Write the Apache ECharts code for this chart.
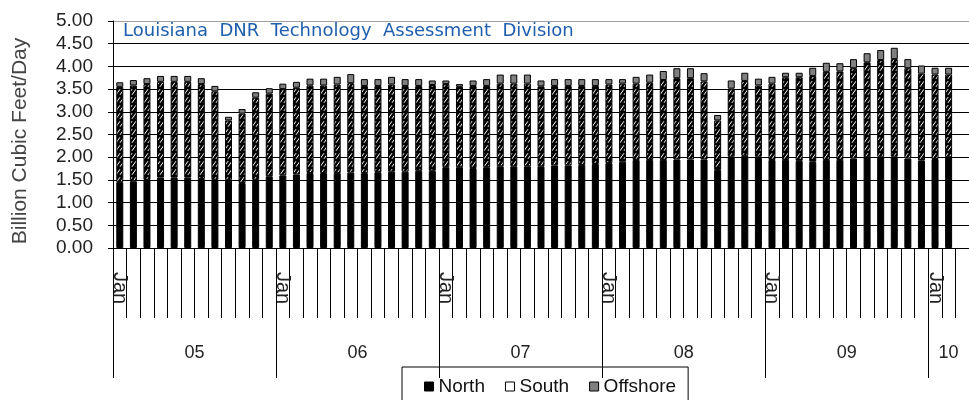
<!DOCTYPE html>
<html>
<head>
<meta charset="utf-8">
<script src="https://cdn.jsdelivr.net/npm/echarts@6/dist/echarts.min.js"></script>
<style>html,body{margin:0;padding:0;background:#fff;}#c{width:969px;height:400px;}</style>
</head>
<body>
<div id="c"></div>
<script>
const months = ['Jan','Feb','Mar','Apr','May','Jun','Jul','Aug','Sep','Oct','Nov','Dec'];
const years = ['05','06','07','08','09','10'];
const monthsIn2010 = 2;
const yTicks = [0,0.5,1,1.5,2,2.5,3,3.5,4,4.5,5];

const north = [
  1.45,1.47,1.50,1.55,1.55,1.55,1.52,1.50,1.50,1.43,1.50,1.58,
  1.60,1.62,1.65,1.65,1.65,1.66,1.65,1.67,1.68,1.68,1.70,1.70,
  1.78,1.78,1.76,1.78,1.80,1.80,1.80,1.80,1.82,1.82,1.83,1.85,
  1.87,1.90,1.94,1.94,1.94,1.95,1.95,1.95,1.72,2.01,2.03,2.01,
  1.94,1.94,1.92,1.90,1.94,1.94,1.97,2.00,2.01,2.01,1.97,1.93,
  1.96,2.00
];
const south = [
  2.10,2.11,2.11,2.11,2.11,2.11,2.09,1.95,1.31,1.53,1.81,1.82,
  1.90,1.91,1.93,1.93,1.95,1.97,1.92,1.90,1.92,1.89,1.87,1.89,
  1.83,1.77,1.81,1.79,1.82,1.82,1.82,1.76,1.75,1.75,1.74,1.72,
  1.73,1.72,1.68,1.70,1.76,1.79,1.79,1.72,1.09,1.50,1.65,1.57,
  1.68,1.82,1.84,1.89,1.94,1.95,1.99,2.09,2.13,2.15,1.99,1.91,
  1.86,1.82
];
const offshore = [
  0.10,0.12,0.13,0.13,0.13,0.13,0.13,0.12,0.08,0.10,0.12,0.12,
  0.12,0.13,0.15,0.15,0.17,0.20,0.15,0.15,0.17,0.15,0.15,0.10,
  0.08,0.06,0.12,0.15,0.20,0.20,0.20,0.13,0.15,0.15,0.15,0.15,
  0.12,0.10,0.15,0.18,0.20,0.22,0.22,0.18,0.12,0.18,0.18,0.15,
  0.15,0.10,0.10,0.18,0.20,0.18,0.20,0.20,0.22,0.25,0.20,0.18,
  0.15,0.15
];

// categories: every month of 2005..2009 plus the first months of 2010, then one empty slot
const categories = [];
years.forEach((y, yi) => {
  const n = yi < years.length - 1 ? 12 : monthsIn2010;
  for (let m = 0; m < n; m++) categories.push(months[m]);
});
const total = categories.length;          // 62 months with data
const slots = total + 1;                  // one empty slot at the right edge
const yearStarts = years.map((y, i) => i * 12);
const yearMids = years.map((y, i) => {
  const s = i * 12, e = Math.min(s + 12, slots);
  return (s + e) / 2;
});

// hatch pattern for South
function hatch() {
  const W = 4, H = 8;
  const c = document.createElement('canvas');
  c.width = W; c.height = H;
  const g = c.getContext('2d');
  g.fillStyle = '#000'; g.fillRect(0, 0, W, H);
  g.strokeStyle = '#fff'; g.lineWidth = 1.0;
  for (let dx = -W; dx <= W; dx += W) for (let dy = -H; dy <= H; dy += H) {
    g.beginPath(); g.moveTo(dx, dy + H * 0.85); g.lineTo(dx + W, dy + H * 0.15); g.stroke();
  }
  return c;
}

const chart = echarts.init(document.getElementById('c'), null, {renderer: 'canvas'});
const gridColors = yTicks.map((v, i) => i === yTicks.length - 1 ? '#a0a0a0' : '#000');
const font = 'Liberation Sans, Arial, sans-serif';
const bar = {type: 'bar', stack: 'all', barWidth: 7};

chart.setOption({
  animation: false,
  grid: {left: 113, right: 0, top: 21, bottom: 152, containLabel: false},
  graphic: [
    {type: 'text', left: 123, top: 22,
      style: {text: 'Louisiana  DNR  Technology  Assessment  Division', fill: '#1f5fae',
        font: '18px "DejaVu Sans", sans-serif'}},
    {type: 'text', x: 10, y: 141, rotation: Math.PI / 2,
      style: {text: 'Billion Cubic Feet/Day', fill: '#444', align: 'center', verticalAlign: 'top',
        font: '21px "Liberation Sans", Arial, sans-serif'}}
  ],
  legend: {
    left: 402, top: 367, orient: 'horizontal',
    borderColor: '#000', borderWidth: 1, padding: [10, 12, 14, 22],
    itemGap: 20, itemWidth: 9, itemHeight: 9, icon: 'rect',
    textStyle: {fontSize: 19, color: '#111', fontFamily: font},
    data: [
      {name: 'North', itemStyle: {color: '#000', borderColor: '#000', borderWidth: 1}},
      {name: 'South', itemStyle: {color: '#fff', borderColor: '#000', borderWidth: 1}},
      {name: 'Offshore', itemStyle: {color: '#808080', borderColor: '#000', borderWidth: 1}}
    ]
  },
  xAxis: [{
    type: 'category', data: categories.concat(['']), boundaryGap: true,
    axisLine: {show: true, lineStyle: {color: '#000', width: 1}},
    axisTick: {show: true, interval: 0, length: 70, alignWithLabel: false, lineStyle: {color: '#000'}},
    axisLabel: {show: true, interval: (i) => i % 12 === 0 && i < total, rotate: -90, margin: 24,
      fontSize: 20, color: '#222', fontFamily: font},
    splitLine: {show: false}
  }, {
    type: 'value', position: 'bottom', min: 0, max: slots,
    axisLine: {show: false},
    axisTick: {show: true, customValues: yearStarts, length: 130, lineStyle: {color: '#000'}},
    axisLabel: {customValues: yearMids, margin: 96, fontSize: 18, color: '#222', fontFamily: font,
      formatter: (v) => years[yearMids.indexOf(v)] || ''},
    splitLine: {show: false}
  }],
  yAxis: {
    type: 'value', min: 0, max: 5, interval: 0.5,
    axisLine: {show: true, lineStyle: {color: '#000'}},
    axisTick: {show: true, length: 5, lineStyle: {color: '#000'}},
    axisLabel: {margin: 20, fontSize: 19, color: '#222', fontFamily: font,
      formatter: (v) => v.toFixed(2)},
    splitLine: {show: true, lineStyle: {color: gridColors, width: 1}}
  },
  series: [
    Object.assign({}, bar, {name: 'North', data: north, itemStyle: {color: '#000', borderColor: '#000', borderWidth: 1}}),
    Object.assign({}, bar, {name: 'South', data: south, itemStyle: {color: {image: hatch(), repeat: 'repeat'}, borderColor: '#000', borderWidth: 1}}),
    Object.assign({}, bar, {name: 'Offshore', data: offshore, itemStyle: {color: '#808080', borderColor: '#000', borderWidth: 1}})
  ]
});
</script>
</body>
</html>
